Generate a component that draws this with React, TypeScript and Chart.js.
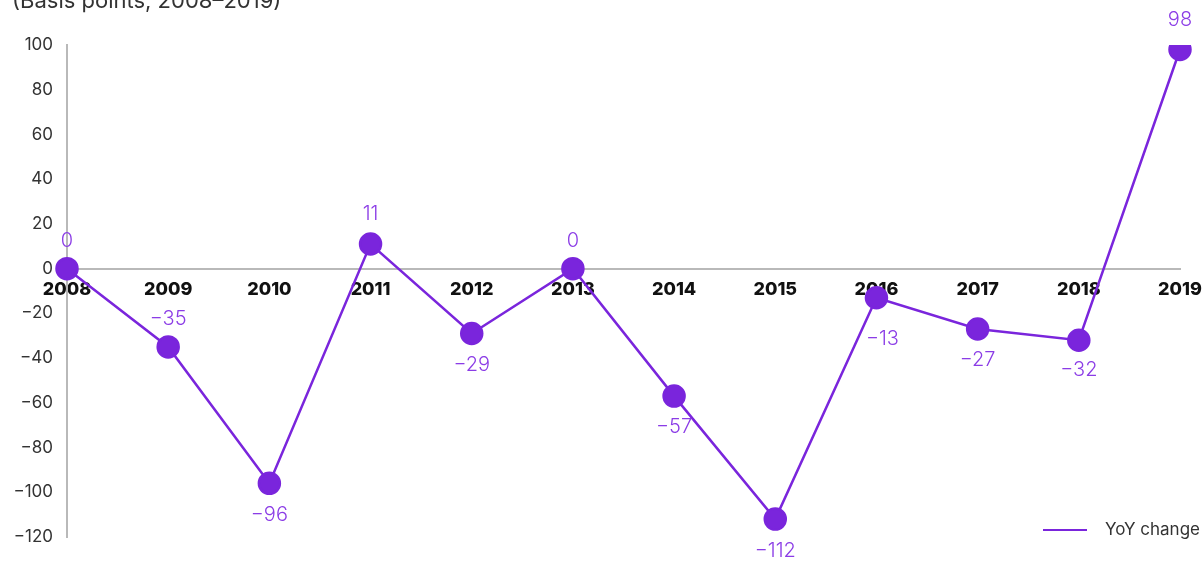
import React, { useEffect, useRef } from "react";
import { Chart, registerables } from "chart.js";

Chart.register(...registerables);

const years = ["2008", "2009", "2010", "2011", "2012", "2013", "2014", "2015", "2016", "2017", "2018", "2019"];
const yoyChange = [0, -35, -96, 11, -29, 0, -57, -112, -13, -27, -32, 98];
const seriesLabel = "YoY change";
const titleText = "(Basis points, 2008\u20132019)";

// label placement (pixels, relative to the point): negative = above
const labelDy = [-28, -28, 32, -30, 31, -28, 31, 32, 41, 31, 30, -29];
const labelDx = [0, 0, 0, 0, 0, 0, 0, 0, 6, 0, 0, 0];

const PURPLE = "#7A25DC";
const LABEL_PURPLE = "#8B3CE6";
const AXIS_GRAY = "#b9b9b9";
const FONT = "Inter, 'Noto Sans', sans-serif";

const valueLabels = {
  id: "valueLabels",
  afterDatasetsDraw(chart: any) {
    const ctx = chart.ctx;
    const meta = chart.getDatasetMeta(0);
    ctx.save();
    ctx.font = `300 20px ${FONT}`;
    ctx.fillStyle = LABEL_PURPLE;
    ctx.textAlign = "center";
    ctx.textBaseline = "middle";
    meta.data.forEach((pt: any, i: number) => {
      const v = yoyChange[i];
      const txt = v < 0 ? "\u2212" + Math.abs(v) : String(v);
      ctx.fillText(txt, pt.x + labelDx[i], pt.y + labelDy[i]);
    });
    ctx.restore();
  },
};

const customLegend = {
  id: "customLegend",
  afterDraw(chart: any) {
    const ctx = chart.ctx;
    ctx.save();
    ctx.strokeStyle = PURPLE;
    ctx.lineWidth = 2;
    ctx.beginPath();
    ctx.moveTo(1043, 530);
    ctx.lineTo(1087, 530);
    ctx.stroke();
    ctx.font = `17px ${FONT}`;
    ctx.fillStyle = "#333";
    ctx.textAlign = "left";
    ctx.textBaseline = "middle";
    ctx.fillText(seriesLabel, 1105, 530);
    ctx.restore();
  },
};

export default function App() {
  const ref = useRef<HTMLCanvasElement>(null);
  useEffect(() => {
    if (!ref.current) return;
    const chart = new Chart(ref.current, {
      type: "line",
      data: {
        labels: years,
        datasets: [
          {
            label: seriesLabel,
            data: yoyChange,
            borderColor: PURPLE,
            backgroundColor: PURPLE,
            pointBackgroundColor: PURPLE,
            pointBorderColor: PURPLE,
            borderWidth: 2.5,
            pointRadius: 10.5,
            pointHoverRadius: 10.5,
            tension: 0,
          },
        ],
      },
      options: {
        animation: false,
        responsive: false,
        maintainAspectRatio: false,
        layout: { padding: { top: 45, bottom: 24, right: 24, left: 0 } },
        plugins: {
          legend: { display: false },
          title: { display: false },
          tooltip: { enabled: false },
        },
        scales: {
          x: {
            position: { y: 0 } as any,
            offset: false,
            grid: { display: false, drawTicks: false },
            border: { display: true, color: AXIS_GRAY, width: 2 },
            afterFit: (scale: any) => {
              scale.paddingLeft = 0;
              scale.paddingRight = 0;
            },
            ticks: {
              padding: 10,
              color: "#111",
              font: { family: FONT, size: 18, weight: "800" as any },
              maxRotation: 0,
              autoSkip: false,
            },
          },
          y: {
            min: -120,
            max: 100,
            grid: { display: false, drawTicks: false },
            border: { display: true, color: AXIS_GRAY, width: 2 },
            afterFit: (scale: any) => {
              scale.width = 67;
              scale.paddingTop = 0;
              scale.paddingBottom = 0;
            },
            ticks: {
              stepSize: 20,
              padding: 14,
              color: "#333",
              font: { family: FONT, size: 17 },
              callback: (v: any) => (Number(v) < 0 ? "\u2212" + Math.abs(Number(v)) : String(v)),
            },
          },
        },
      },
      plugins: [valueLabels, customLegend],
    });
    return () => chart.destroy();
  }, []);

  return (
    <div style={{ position: "absolute", left: 0, top: 0, width: 1204, height: 561, overflow: "hidden", background: "#fff" }}>
      <canvas ref={ref} width={1204} height={561} style={{ position: "absolute", left: 0, top: 0 }} />
      <div
        style={{
          position: "absolute",
          left: 12,
          top: -13,
          fontFamily: FONT,
          fontSize: 22,
          lineHeight: "26px",
          color: "#333",
          whiteSpace: "nowrap",
        }}
      >
        {titleText}
      </div>
    </div>
  );
}
